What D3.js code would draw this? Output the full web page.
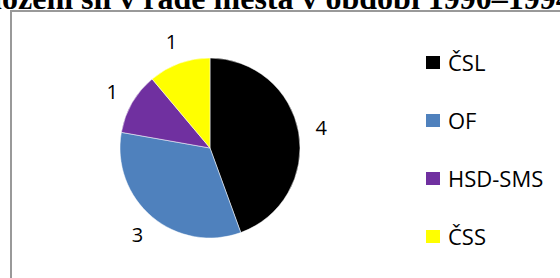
<!DOCTYPE html>
<html>
<head>
<meta charset="utf-8">
<script src="https://cdn.jsdelivr.net/npm/d3@7"></script>
<style>
  body { margin: 0; background: #fff; }
  svg { display: block; }
</style>
</head>
<body>
<div id="chart-area"></div>
<script>
let parties = ['ČSL', 'OF', 'HSD-SMS', 'ČSS']
let seats = [4, 3, 1, 1]
let colors = ['#000000', '#4f81bd', '#7030a0', '#ffff00']
let title = 'Rozložení sil v radě města v období 1990–1994'

let width = 560
let height = 278

let svg = d3.select('#chart-area').append('svg')
	.attr('width', width)
	.attr('height', height)

// TITLE (cut off at the top of the picture)
let titleText = svg.append('text')
	.attr('y', 9)
	.attr('font-family', '"Liberation Serif", serif')
	.attr('font-weight', 'bold')
	.attr('font-size', 32)
	.attr('fill', '#000')
	.text(title)
let prefix = titleText.node().getSubStringLength(0, 4)
titleText.attr('x', 2 - prefix)

// CHART FRAME
svg.append('rect')
	.attr('x', 11)
	.attr('y', 11)
	.attr('width', 600)
	.attr('height', 300)
	.attr('fill', 'none')
	.attr('stroke', '#999')
	.attr('stroke-width', 2)

// PIE
let data = parties.map((p, i) => ({ party: p, value: seats[i], color: colors[i] }))

let pie = d3.pie().sort(null).value(d => d.value)
let arc = d3.arc().innerRadius(0).outerRadius(90)
let labelArc = d3.arc().innerRadius(113).outerRadius(113)

let pieGroup = svg.append('g')
	.attr('transform', 'translate(210, 148)')

let arcs = pie(data)

pieGroup.selectAll('path')
	.data(arcs)
	.enter()
	.append('path')
		.attr('d', arc)
		.attr('fill', d => d.data.color)
		.attr('stroke', '#fff')
		.attr('stroke-width', 0.5)

pieGroup.selectAll('text')
	.data(arcs)
	.enter()
	.append('text')
		.attr('transform', d => 'translate(' + labelArc.centroid(d) + ')')
		.attr('text-anchor', 'middle')
		.attr('dy', '0.35em')
		.attr('font-family', '"Open Sans", sans-serif')
		.attr('font-size', 20)
		.attr('fill', '#000')
		.text(d => d.data.value)

// LEGEND
let legend = svg.append('g')
	.attr('transform', 'translate(426, 63)')

let items = legend.selectAll('g')
	.data(data)
	.enter()
	.append('g')
		.attr('transform', (d, i) => 'translate(0, ' + (i * 58) + ')')

items.append('rect')
	.attr('x', 0)
	.attr('y', -7)
	.attr('width', 14)
	.attr('height', 13)
	.attr('fill', d => d.color)

items.append('text')
	.attr('x', 22)
	.attr('dy', '0.35em')
	.attr('font-family', '"Open Sans", sans-serif')
	.attr('font-size', 22)
	.attr('fill', '#000')
	.text(d => d.party)
</script>
</body>
</html>
